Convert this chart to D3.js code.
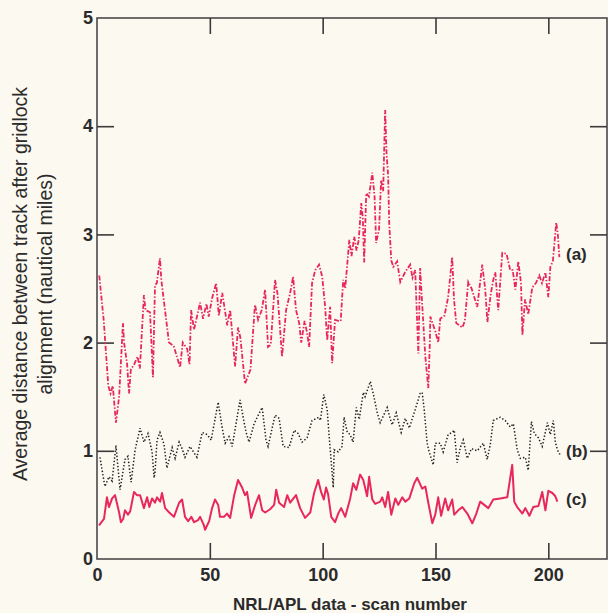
<!DOCTYPE html>
<html><head><meta charset="utf-8">
<script src="https://cdn.jsdelivr.net/npm/d3@7"></script>
<style>
html,body{margin:0;padding:0;background:#fcf9f0;}
svg{display:block;}
text{font-family:"Liberation Sans",Arial,Helvetica,sans-serif;}
</style></head>
<body><svg id="chart" width="608" height="613"></svg>
<script>
// [scan number, average distance (nautical miles)]
const seriesA = [[1,2.62],[3,2.2],[5,1.6],[6,1.53],[7,1.6],[8.4,1.26],[9.8,1.5],[11.5,2.18],[12,2.0],[13.3,1.81],
[14.2,1.53],[15,1.75],[16.5,1.8],[18,1.87],[19,1.76],[20.8,2.44],[21.5,2.3],[23.5,2.28],[24.8,1.68],[25.7,2.53],
[26.5,2.55],[27.9,2.78],[28.5,2.58],[31.9,2.0],[34,1.97],[36.8,1.77],[38,2.0],[40,1.94],[41,1.8],[41.7,2.3],
[43,2.12],[45.7,2.37],[47,2.22],[48.5,2.36],[49.5,2.24],[51,2.41],[52.8,2.55],[54,2.25],[55.5,2.46],[57.7,2.16],
[59,2.3],[61.2,1.78],[62.5,2.14],[63.5,2.05],[65.6,1.62],[68,1.75],[70,2.35],[71.4,2.21],[73,2.3],[74.5,2.49],
[75.8,1.96],[77,1.98],[78.9,2.58],[80,2.45],[82,1.87],[83.8,2.3],[85.6,2.46],[86.9,2.61],[88.2,2.3],[89.6,2.18],
[90.5,2.0],[92,2.2],[93,2.1],[94,1.96],[95.3,2.55],[96.7,2.67],[98.4,2.72],[99.8,2.61],[101.1,2.33],[102,2.02],
[103.3,2.33],[104.2,1.81],[105.5,2.21],[107,2.2],[108,2.2],[109.1,2.58],[110,2.5],[111.8,2.95],[112.8,2.8],[114,2.98],
[115,2.85],[116,2.95],[117.1,3.29],[117.8,3.15],[118.4,2.74],[119.3,3.38],[120.5,3.35],[122,3.57],[123,3.35],[123.7,2.92],
[125,3.05],[125.9,3.5],[126.8,3.4],[127.7,4.15],[128.3,3.75],[129,3.55],[129.5,3.1],[130.4,2.76],[131.3,2.7],[133,2.75],
[134.4,2.56],[136.5,2.65],[138.8,2.72],[139.8,2.6],[141,2.67],[142.4,1.9],[143.2,2.69],[144,2.39],[145.5,1.87],[146.8,1.58],
[147.5,2.0],[147.7,2.24],[150,2.1],[151.2,2.0],[152.1,2.22],[154,2.25],[155.6,2.42],[157.4,2.79],[158.2,2.4],[159.2,2.18],
[161.9,2.14],[163,2.2],[164.5,2.56],[166,2.5],[168.5,2.33],[170.7,2.72],[172,2.5],[173,2.19],[174.5,2.45],[175.6,2.58],
[176.5,2.65],[177.8,2.3],[179.6,2.83],[181.5,2.82],[183.1,2.67],[184.2,2.67],[185.4,2.49],[186.7,2.75],[187.9,2.55],[188.5,2.07],
[189.7,2.4],[191.1,2.26],[192.9,2.51],[194.5,2.55],[196,2.62],[197.2,2.55],[198.7,2.65],[200,2.42],[200.9,2.7],[202,2.75],
[203.5,3.11],[204.2,3.0],[204.9,2.79]];

const seriesB = [[1.3,0.94],[3.5,0.67],[5.3,0.76],[6.7,0.72],[8.4,1.05],[10.2,0.64],[12.4,0.92],[13.7,0.95],[15.1,0.71],[16.9,1.01],
[19.1,1.21],[20.8,1.08],[22.6,1.16],[24.4,0.99],[25.3,0.75],[25.7,0.8],[26.6,1.1],[27.9,1.17],[29.7,1.06],[31,0.84],
[33.3,1.03],[34.6,0.93],[36.4,1.08],[37.7,1.02],[39,0.94],[41.2,1.04],[44.3,0.94],[46.6,1.17],[48.8,1.15],[50.6,1.1],
[53.7,1.45],[55.4,1.22],[56.8,1.07],[58.5,1.13],[59.9,1.04],[61.2,1.2],[63.4,1.47],[65.2,1.26],[66.1,1.17],[67.4,1.08],
[69.6,1.25],[71,1.31],[73.2,1.4],[74.9,1.1],[75.8,1.04],[78.9,1.33],[80.7,1.3],[82.5,1.04],[85.1,1.03],[87.4,1.19],
[89.1,1.16],[90.9,1.08],[93.1,1.12],[95.3,1.28],[98.4,1.31],[99,1.28],[100.5,1.52],[102,1.38],[102.9,1.13],[104.7,0.66],
[105.1,1.01],[106.9,0.99],[108.6,1.04],[109.5,1.31],[110.9,1.17],[112.2,1.15],[113.5,1.08],[114.9,1.4],[116.2,1.29],[118,1.54],
[118.8,1.5],[121.1,1.64],[122.4,1.53],[124.2,1.35],[125.5,1.26],[128.6,1.4],[129.9,1.3],[130.8,1.24],[132.6,1.35],[134.8,1.17],
[136.6,1.3],[138.4,1.21],[141,1.38],[143.2,1.53],[144.1,1.54],[145,1.38],[146.3,1.07],[147.2,0.99],[149,0.87],[149.9,1.07],
[152.1,1.07],[153.4,0.99],[155.6,1.15],[157.4,1.17],[158.3,1.19],[159.6,0.89],[161,1.03],[162.3,1.1],[164.1,0.93],[165.9,1.02],
[168.5,1.0],[171.2,1.07],[172.9,0.92],[174.3,1.06],[175.6,1.28],[178.7,1.31],[180.9,1.28],[183.1,1.22],[184.5,1.25],[186.2,1.01],
[187.6,0.93],[189.8,0.94],[191.1,0.82],[192.5,1.27],[193.8,1.16],[195.6,1.12],[197.3,1.04],[199.6,1.26],[200.9,1.15],[202.2,1.28],
[203.1,1.08],[204,1.01],[205.3,0.96]];

const seriesC = [[0.9,0.31],[3.1,0.37],[4.4,0.57],[5.3,0.48],[6.7,0.56],[8,0.59],[9.8,0.43],[10.6,0.34],[11.6,0.37],[12.4,0.45],
[13.7,0.41],[14.7,0.44],[16.4,0.62],[17.7,0.59],[19.1,0.59],[20.8,0.47],[22.2,0.57],[23.2,0.48],[24.4,0.56],[25.7,0.52],
[26.6,0.57],[28,0.53],[28.8,0.61],[30.2,0.47],[32,0.43],[34.1,0.39],[36.4,0.52],[37.7,0.55],[39,0.39],[40.4,0.35],
[41.8,0.39],[43,0.34],[44.8,0.36],[45.7,0.39],[47.4,0.31],[47.9,0.27],[49.7,0.35],[51,0.47],[52.3,0.55],[53.7,0.5],
[54.5,0.39],[56.3,0.39],[57.6,0.42],[59,0.38],[60.8,0.59],[62.5,0.73],[64.3,0.66],[65.6,0.59],[66.5,0.62],[68.3,0.38],
[70.1,0.5],[71.8,0.59],[73.2,0.45],[74.5,0.43],[76.7,0.46],[78.5,0.5],[79.4,0.64],[80.7,0.52],[82.9,0.48],[84.3,0.59],
[85.6,0.52],[88.2,0.59],[90,0.47],[92.2,0.38],[94.5,0.43],[96.2,0.61],[98,0.73],[99.3,0.62],[100.5,0.55],[101.5,0.66],
[102.4,0.6],[103.8,0.39],[105.5,0.34],[106.9,0.42],[108.2,0.47],[110,0.39],[112.2,0.56],[113.5,0.7],[114.9,0.64],[116.6,0.78],
[118,0.73],[119.7,0.58],[120.6,0.76],[122,0.55],[123.3,0.51],[125.5,0.53],[126.4,0.57],[127.7,0.48],[129,0.62],[130.4,0.41],
[132.2,0.56],[133.5,0.5],[135.3,0.57],[136.6,0.53],[138.4,0.56],[140.6,0.7],[141.9,0.75],[144.1,0.65],[145.5,0.67],[146.8,0.52],
[148.6,0.33],[149.9,0.41],[151.2,0.57],[152.5,0.4],[154.3,0.56],[155.6,0.45],[157.4,0.55],[158.3,0.41],[160.1,0.45],[161.9,0.48],
[164.1,0.42],[166.3,0.33],[168.1,0.42],[169.8,0.53],[171.6,0.5],[173.4,0.47],[175.6,0.55],[178.7,0.56],[181.8,0.57],[184,0.87],
[184.9,0.53],[186.2,0.48],[188.5,0.42],[189.8,0.47],[191.6,0.4],[193.3,0.48],[195.6,0.49],[197.3,0.62],[198.7,0.45],[200,0.63],
[201.8,0.61],[203.1,0.58],[204,0.53]];

const xTicks = [0, 50, 100, 150, 200];
const yTicks = [0, 1, 2, 3, 4, 5];
const seriesLabels = ["(a)", "(b)", "(c)"];
const labelValues = [2.82, 1.0, 0.55];
const xTitle = "NRL/APL data - scan number";
const yTitleLines = ["Average distance between track after gridlock", "alignment (nautical miles)"];

const svg = d3.select("#chart");
const L = 97, R = 607, T = 18, B = 559;
const x = d3.scaleLinear().domain([0, 226]).range([L, R]);
const y = d3.scaleLinear().domain([0, 5]).range([B, T]);

const red = "#e8285a";
const ink = "#2b2b2b";

// frame
svg.append("rect").attr("x", L).attr("y", T).attr("width", R - L).attr("height", B - T)
  .attr("fill", "none").attr("stroke", "#4a4a4a").attr("stroke-width", 1.6);

// axes with inward ticks
const gB = svg.append("g").attr("transform", `translate(0,${B})`)
  .call(d3.axisBottom(x).tickValues(xTicks).tickSize(-16).tickPadding(6).tickFormat(d3.format("d")));
const gT = svg.append("g").attr("transform", `translate(0,${T})`)
  .call(d3.axisTop(x).tickValues(xTicks.slice(1)).tickSize(-16).tickFormat(""));
const gL = svg.append("g").attr("transform", `translate(${L},0)`)
  .call(d3.axisLeft(y).tickValues(yTicks).tickSize(-17).tickPadding(3).tickFormat(d3.format("d")));
const gR = svg.append("g").attr("transform", `translate(${R},0)`)
  .call(d3.axisRight(y).tickValues(yTicks.slice(1, 5)).tickSize(-17).tickFormat(""));
[gB, gT, gL, gR].forEach(g => {
  g.select(".domain").remove();
  g.selectAll(".tick line").attr("stroke", "#3a3a3a").attr("stroke-width", 1.6);
  g.selectAll(".tick text").attr("fill", ink).attr("font-size", 18).attr("font-weight", "bold");
});
gB.selectAll(".tick line").filter(d => d === 0).remove();
gL.selectAll(".tick line").filter(d => d === 0 || d === 5).remove();
gL.selectAll(".tick text").attr("dx", -1);
gB.selectAll(".tick text").attr("dy", "0.9em");

// lines
const line = d3.line().x(d => x(d[0])).y(d => y(d[1]));
svg.append("path").datum(seriesA).attr("d", line).attr("fill", "none")
  .attr("stroke", red).attr("stroke-width", 1.8).attr("stroke-dasharray", "5,1.8,1.5,1.8");
svg.append("path").datum(seriesB).attr("d", line).attr("fill", "none")
  .attr("stroke", "#1e1e1e").attr("stroke-width", 1.5).attr("stroke-dasharray", "1.4,2");
svg.append("path").datum(seriesC).attr("d", line).attr("fill", "none")
  .attr("stroke", red).attr("stroke-width", 2).attr("stroke-linejoin", "round");

// series labels
svg.selectAll("text.slab").data(seriesLabels).join("text").attr("class", "slab")
  .attr("x", 566).attr("y", (d, i) => y(labelValues[i])).attr("dy", "0.35em")
  .attr("font-size", 17).attr("font-weight", "bold").attr("fill", ink).text(d => d);

// titles
svg.append("text").attr("x", (L + R) / 2 - 2).attr("y", 610).attr("text-anchor", "middle")
  .attr("font-size", 17).attr("font-weight", "bold").attr("fill", ink).text(xTitle);
const yt = svg.append("text").attr("transform", "translate(27,284) rotate(-90)")
  .attr("text-anchor", "middle").attr("font-size", 19.5).attr("fill", ink);
yTitleLines.forEach((t, i) => yt.append("tspan").attr("x", 0).attr("dy", i === 0 ? 0 : 25).text(t));
</script></body></html>
